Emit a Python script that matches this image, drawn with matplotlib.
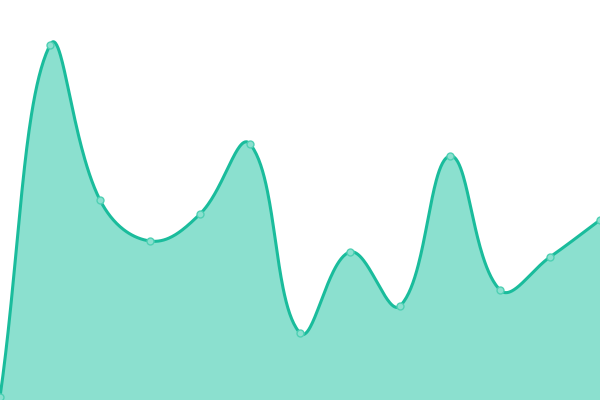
import numpy as np
import matplotlib
matplotlib.use("Agg")
import matplotlib.pyplot as plt

# Data
labels = list(range(13))
values = [3, 355, 200, 159, 186, 256, 67, 148, 94, 244, 110, 143, 180]

LINE = "#1abc9c"
FILL = "#8be0cf"
TENSION = 0.4

fig = plt.figure(figsize=(6, 4), dpi=100)
ax = fig.add_axes([0, 0, 1, 1])
ax.set_xlim(0, len(labels) - 1)
ax.set_ylim(0, 400)
ax.axis("off")

# points in display (pixel) space
disp = ax.transData.transform(np.column_stack([labels, values]))
n = len(disp)
W, H = fig.bbox.width, fig.bbox.height

def spline_cps(p0, p1, p2, t):
    d01 = np.hypot(*(p1 - p0))
    d12 = np.hypot(*(p2 - p1))
    tot = d01 + d12
    s01 = d01 / tot if tot else 0
    s12 = d12 / tot if tot else 0
    fa, fb = t * s01, t * s12
    return p1 - fa * (p2 - p0), p1 + fb * (p2 - p0)

cps = []
for i in range(n):
    p0 = disp[i - 1] if i > 0 else disp[i]
    p2 = disp[i + 1] if i < n - 1 else disp[i]
    a, b = spline_cps(p0, disp[i], p2, TENSION)
    a = np.clip(a, [0, 0], [W, H])
    b = np.clip(b, [0, 0], [W, H])
    cps.append((a, b))

curve = []
ts = np.linspace(0, 1, 60)
for i in range(n - 1):
    P0 = disp[i]; P1 = cps[i][1]; P2 = cps[i + 1][0]; P3 = disp[i + 1]
    for t in ts[:-1] if i < n - 2 else ts:
        pt = ((1 - t) ** 3) * P0 + 3 * ((1 - t) ** 2) * t * P1 + 3 * (1 - t) * t ** 2 * P2 + t ** 3 * P3
        curve.append(pt)
curve = np.array(curve)
data_curve = ax.transData.inverted().transform(curve)

ax.fill_between(data_curve[:, 0], data_curve[:, 1], 0, color=FILL, lw=0, zorder=1)
ax.plot(data_curve[:, 0], data_curve[:, 1], color=LINE, lw=2.2, zorder=2, solid_capstyle="round")
ax.plot(labels, values, "o", ms=5, mfc=FILL, mec="#4fd0b4", mew=1, zorder=3, clip_on=True)

fig.savefig("out.png", dpi=100)
